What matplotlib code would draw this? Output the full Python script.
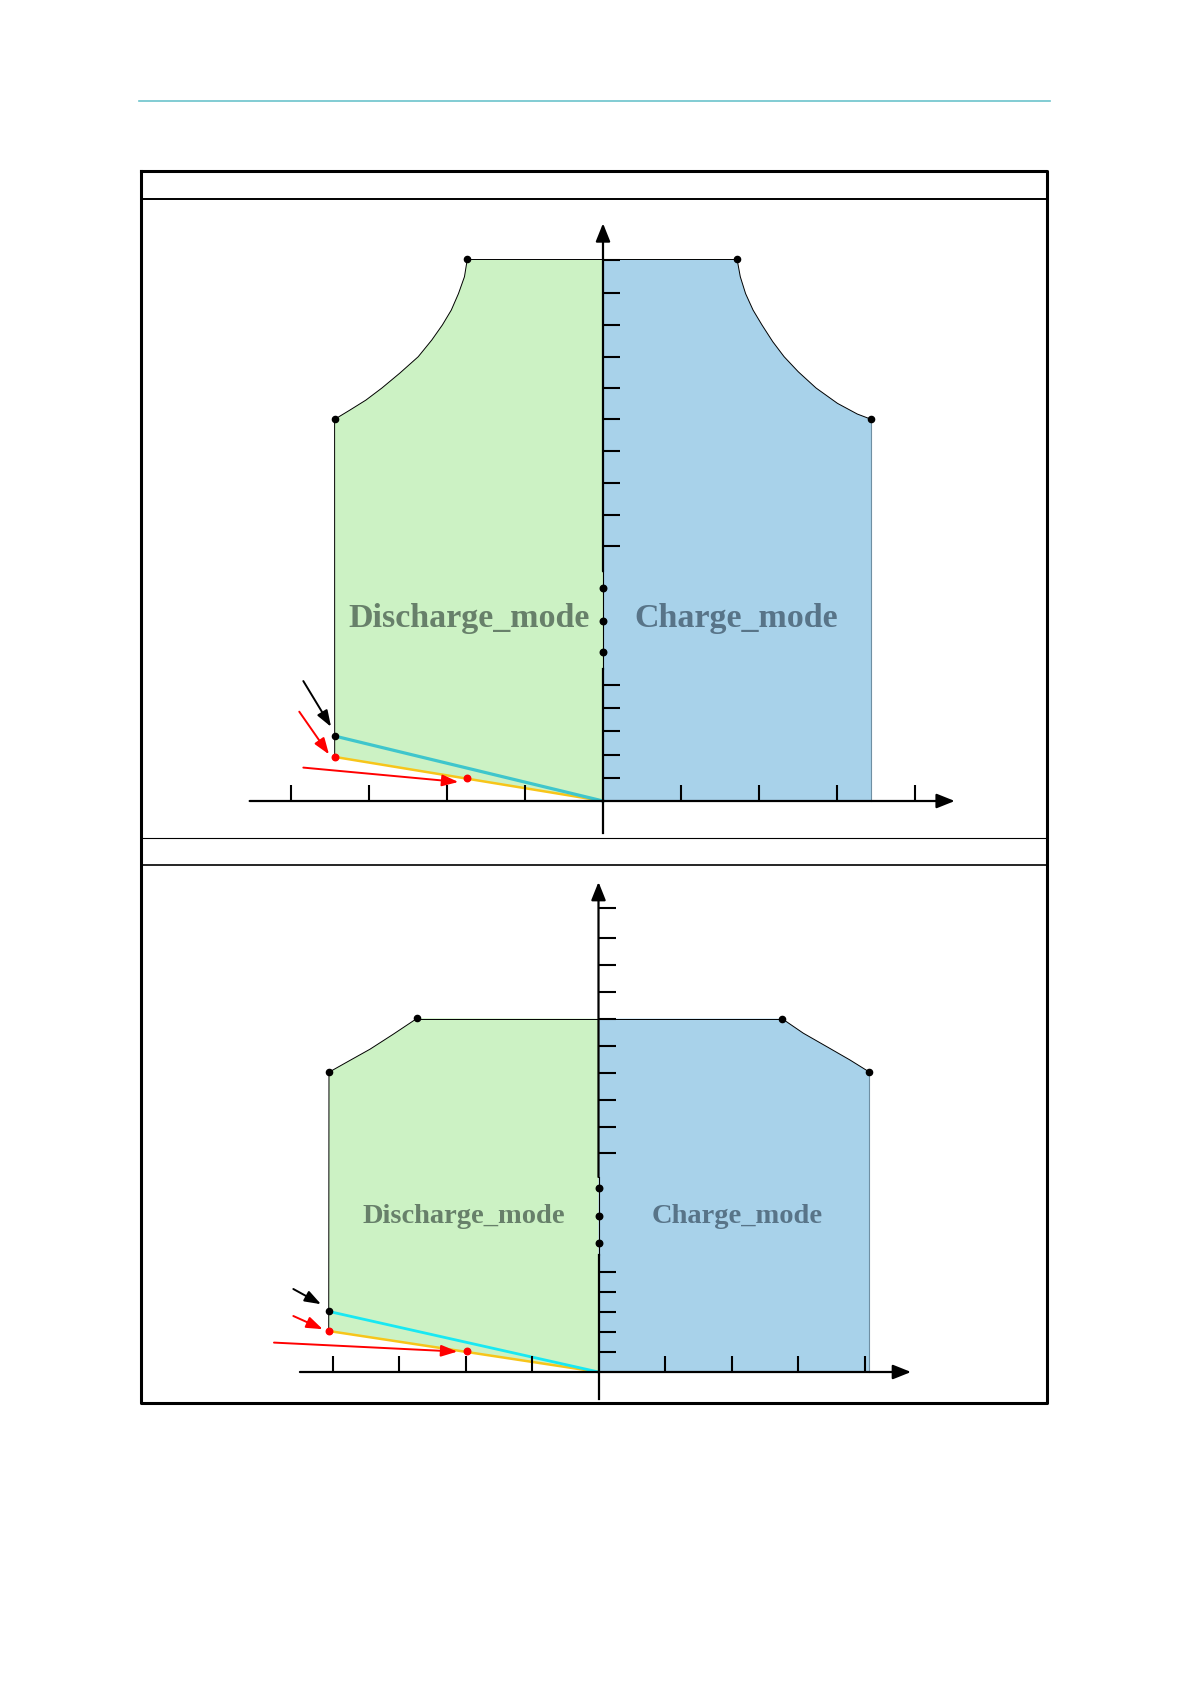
import numpy as np
import matplotlib.pyplot as plt

W, H, DPI = 1191, 1684, 100

# ---------------- data (schematic units: x = ticks, y = lower ticks) ----------------
# panel 1: curved (constant power) corners
p1_top = 23.35
p1_left_x = [-3.441, -3.245, -3.040, -2.835, -2.606, -2.369, -2.195, -2.059, -1.945,
             -1.853, -1.776, -1.740]
p1_left_y = [16.45, 16.85, 17.28, 17.80, 18.44, 19.15, 19.87, 20.52, 21.16,
             21.87, 22.60, 23.35]
p1_right_x = [1.719, 1.760, 1.828, 1.924, 2.038, 2.176, 2.322, 2.504, 2.732,
              3.006, 3.260, 3.440]
p1_right_y = [23.35, 22.60, 21.87, 21.16, 20.52, 19.80, 19.15, 18.50, 17.80,
              17.14, 16.68, 16.45]
p1_black_pt = (-3.44, 2.80)
p1_red_pt = (-3.44, 1.90)
p1_mid_pt = (-1.74, 0.99)
p1_yticks = [1, 2, 3, 4, 5, 10.98, 12.33, 13.72, 15.08, 16.45, 17.80, 19.14, 20.53, 21.88, 23.34]
p1_xticks = [-4, -3, -2, -1, 1, 2, 3, 4]
p1_arrows = [((-3.842, 5.17), (-3.487, 3.20), "black"),
             ((-3.894, 3.85), (-3.513, 2.01), "red"),
             ((-3.842, 1.44), (-1.855, 0.82), "red")]

# panel 2: straight-ish corners
p2_top = 17.67
p2_left_x = [-4.053, -3.786, -3.436, -3.086, -2.725]
p2_left_y = [14.99, 15.49, 16.14, 16.89, 17.69]
p2_right_x = [2.759, 3.080, 3.432, 3.782, 4.072]
p2_right_y = [17.67, 16.94, 16.27, 15.60, 15.00]
p2_black_pt = (-4.057, 3.03)
p2_red_pt = (-4.057, 2.05)
p2_mid_pt = (-1.97, 1.03)
p2_yticks = [1, 2, 3, 4, 5, 10.94, 12.27, 13.60, 14.97, 16.30, 17.66, 19.00, 20.34, 21.70, 23.18]
p2_xticks = [-4, -3, -2, -1, 1, 2, 3, 4]
p2_arrows = [((-4.589, 4.15), (-4.173, 3.39), "black"),
             ((-4.589, 2.80), (-4.147, 2.14), "red"),
             ((-4.880, 1.47), (-2.123, 1.02), "red")]

break_dots = [6.43, 7.78, 9.18]
labels = ["Discharge_mode", "Charge_mode"]

GREEN = "#ccf2c4"
BLUE = "#a8d2ea"

fig = plt.figure(figsize=(W / DPI, H / DPI), dpi=DPI)

# page decoration (pixel coordinates)
bg = fig.add_axes([0, 0, 1, 1])
bg.set_xlim(0, W)
bg.set_ylim(H, 0)
bg.axis("off")
bg.plot([139, 1050], [101, 101], color="#6cc4cc", lw=1.2)
bg.plot([141, 1047, 1047, 141, 141], [171, 171, 1403, 1403, 171], color="black", lw=2.2)
bg.plot([141, 1047], [199, 199], color="black", lw=1.4)
bg.plot([141, 1047], [838, 838], color="black", lw=0.8)
bg.plot([141, 1047], [865, 865], color="black", lw=1.2)


def make_axes(frame, origin, unit):
    l, t, r, b = frame
    ax = fig.add_axes([l / W, 1 - b / H, (r - l) / W, (b - t) / H])
    ax.set_xlim((l - origin[0]) / unit[0], (r - origin[0]) / unit[0])
    ax.set_ylim((origin[1] - b) / unit[1], (origin[1] - t) / unit[1])
    ax.axis("off")
    return ax


def arrow(ax, start, tip, col, lw, scale, hl, hw):
    ax.annotate("", xy=tip, xytext=start, zorder=5,
                arrowprops=dict(arrowstyle=f"-|>,head_length={hl},head_width={hw}",
                                lw=lw, color=col, shrinkA=0, shrinkB=0,
                                mutation_scale=scale))


def draw_panel(ax, unit, top, lx, ly, rx, ry, black_pt, red_pt, mid_pt, xticks, yticks,
               arrows, cyan, cyan_lw, fsize, text_pos, x_ext, y_ext, br):
    ux, uy = unit
    # fills
    gx = [red_pt[0], lx[0]] + list(lx) + [0, 0]
    gy = [red_pt[1], ly[0]] + list(ly) + [top, 0]
    ax.fill(gx, gy, color=GREEN, lw=0, zorder=1)
    bx = [0, 0] + list(rx) + [rx[-1]]
    by = [0, top] + list(ry) + [0]
    ax.fill(bx, by, color=BLUE, lw=0, zorder=1)
    # outlines
    ax.plot(lx, ly, color="black", lw=0.7, zorder=2)
    ax.plot(rx, ry, color="black", lw=0.7, zorder=2)
    ax.plot([lx[-1], rx[0]], [top, top], color="black", lw=0.7, zorder=2)
    ax.plot([lx[0], red_pt[0]], [ly[0], red_pt[1]], color="black", lw=0.7, zorder=2)
    ax.plot([rx[-1], rx[-1]], [ry[-1], 0], color="#6f8fa3", lw=0.8, zorder=2)
    # limit lines
    ax.plot([red_pt[0], 0], [red_pt[1], 0], color="#f7c51a", lw=1.8, zorder=3)
    ax.plot([black_pt[0], 0], [black_pt[1], 0], color=cyan, lw=cyan_lw, zorder=3)
    # x axis
    arrow(ax, (x_ext[0], 0), (x_ext[1], 0), "black", 1.6, 20, 0.55, 0.22)
    ax.vlines(xticks, 0, 16 / uy, color="black", lw=1.5, zorder=4)
    # y axis (broken)
    ax.plot([0, 0], [y_ext[0], br[0]], color="black", lw=1.6, zorder=4)
    ax.plot([0, 0], [br[0], br[1]], color="black", lw=0.8, zorder=4)
    arrow(ax, (0, br[1]), (0, y_ext[1]), "black", 1.6, 20, 0.55, 0.22)
    ax.hlines(yticks, 0, 17 / ux, color="black", lw=1.5, zorder=4)
    ax.scatter([0] * len(break_dots), break_dots, s=22, color="black", zorder=5)
    # points
    ax.scatter([lx[0], rx[0], rx[-1], lx[-1], black_pt[0]],
               [ly[0], ry[0], ry[-1], ly[-1], black_pt[1]], s=20, color="black", zorder=5)
    ax.scatter([red_pt[0], mid_pt[0]], [red_pt[1], mid_pt[1]], s=22, color="red", zorder=5)
    # annotation arrows
    for start, tip, col in arrows:
        arrow(ax, start, tip, col, 1.4, 14, 0.7, 0.25)
    # labels
    ax.text(text_pos[0], text_pos[2], labels[0], ha="center", va="baseline",
            fontsize=fsize, fontweight="bold", family="Liberation Serif",
            color="#67806a", zorder=3)
    ax.text(text_pos[1], text_pos[2], labels[1], ha="center", va="baseline",
            fontsize=fsize, fontweight="bold", family="Liberation Serif",
            color="#587488", zorder=3)


ax1 = make_axes((141, 199, 1047, 838), (603, 801), (78, 23.2))
draw_panel(ax1, (78, 23.2), p1_top, p1_left_x, p1_left_y, p1_right_x, p1_right_y,
           p1_black_pt, p1_red_pt, p1_mid_pt, p1_xticks, p1_yticks, p1_arrows,
           "#3fc6cc", 2.3, 24.5, (-1.72, 1.705, 7.51), (-4.53, 4.51), (-1.38, 24.9), (5.7, 9.9))

ax2 = make_axes((141, 865, 1047, 1403), (598.5, 1372), (66.5, 20))
draw_panel(ax2, (66.5, 20), p2_top, p2_left_x, p2_left_y, p2_right_x, p2_right_y,
           p2_black_pt, p2_red_pt, p2_mid_pt, p2_xticks, p2_yticks, p2_arrows,
           "#19e8f2", 2.0, 20.5, (-2.026, 2.08, 7.43), (-4.49, 4.70), (-1.33, 24.5), (5.86, 9.75))

fig.savefig("out.png", dpi=DPI)
